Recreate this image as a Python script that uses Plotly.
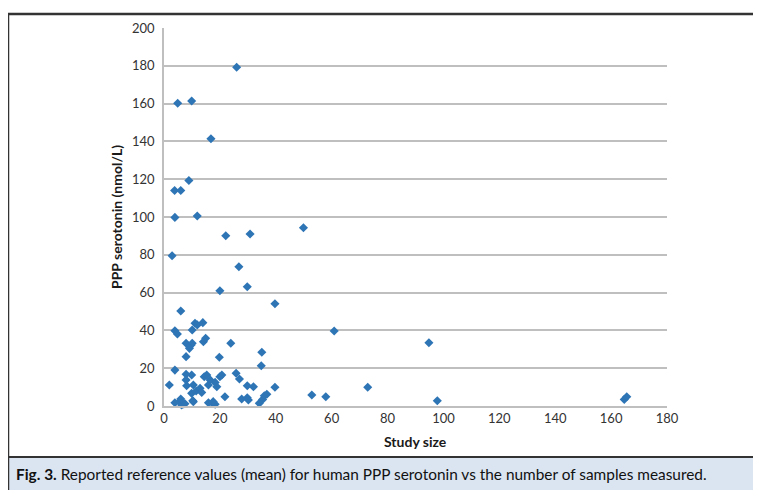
import plotly.graph_objects as go

# Study size (x) and mean PPP serotonin nmol/L (y)
study_size = [26.0, 4.9, 9.9, 16.8, 8.9, 3.8, 6.0, 3.9, 11.9, 22.1, 30.8, 49.9, 2.9, 26.8,
              20.0, 29.8, 39.7, 6.0, 11.1, 11.9, 13.9, 3.9, 4.8, 10.1, 60.9, 14.1, 14.9,
              7.9, 9.7, 10.1, 9.1, 23.9, 94.8, 35.0, 7.9, 19.8, 34.8, 3.9, 1.9,
              7.9, 9.9, 7.9, 8.1, 10.5, 9.9, 11.5, 12.9, 13.5, 14.4, 15.3, 16.5, 15.9,
              18.3, 18.9, 3.9, 5.7, 6.3, 7.5, 10.5, 15.9, 17.4, 20.0, 20.7, 25.8, 27.0,
              29.8, 32.0, 21.8, 27.8, 29.8, 30.2, 34.1, 35.3, 35.9, 36.8, 39.7, 52.9,
              57.9, 72.9, 97.8, 164.7, 165.6, 6.8, 18.3, 6.0, 17.6, 10.3]
serotonin = [179.2, 160.2, 161.4, 141.4, 119.3, 114.0, 114.0, 99.8, 100.5, 90.1, 91.0, 94.3,
             79.5, 73.7, 61.0, 63.1, 54.1, 50.3, 43.8, 42.9, 44.1, 39.8, 38.1, 40.2, 39.7,
             34.0, 35.8, 33.2, 32.3, 33.2, 30.5, 33.2, 33.5, 28.4, 26.1, 25.8, 21.3, 19.0,
             11.1, 16.8, 16.4, 13.8, 10.7, 11.1, 6.7, 7.9, 9.4, 7.2, 15.5, 16.4, 13.8,
             11.1, 12.5, 10.2, 1.7, 2.3, 0.5, 1.2, 2.3, 1.7, 1.4, 15.5, 16.4, 17.3, 14.3,
             10.7, 10.2, 4.9, 3.7, 4.4, 3.2, 1.4, 3.5, 5.4, 6.2, 9.9, 5.8, 4.9, 9.9, 2.8,
             3.5, 4.9, 1.0, 0.9, 3.7, 2.3, 2.8]

x_ticks = [0, 20, 40, 60, 80, 100, 120, 140, 160, 180]
y_ticks = [0, 20, 40, 60, 80, 100, 120, 140, 160, 180, 200]
x_title = "Study size"
y_title = "PPP serotonin (nmol/L)"
caption = "<b>Fig. 3.</b> Reported reference values (mean) for human PPP serotonin vs the number of samples measured."

OFF = 8  # page body margin
W, H = 761 - OFF, 490 - OFF
# plot area in page pixels
L, R, T, B = 164, 667, 28, 406


def px(xpix):
    return (xpix - L) / (R - L)


def py(ypix):
    return (B - ypix) / (B - T)


fig = go.Figure()
fig.add_trace(go.Scatter(
    x=study_size, y=serotonin, mode="markers",
    marker=dict(symbol="diamond", size=7, color="#2E75B6"),
    showlegend=False, cliponaxis=False,
))

FONT = "Lato, 'Open Sans', sans-serif"
fig.update_layout(
    width=W, height=H,
    margin=dict(l=L - OFF, r=W - (R - OFF), t=T - OFF, b=H - (B - OFF), pad=0),
    paper_bgcolor="white", plot_bgcolor="white",
    font=dict(family=FONT, size=13, color="#333333"),
    xaxis=dict(range=[0, 180], tickvals=x_ticks, showgrid=False, zeroline=False,
               showline=True, linecolor="#BFBFBF", linewidth=1.5, ticks="",
               tickfont=dict(size=13, color="#333333")),
    yaxis=dict(range=[0, 200], tickvals=y_ticks, showgrid=True, gridcolor="#BFBFBF",
               gridwidth=1.5, zeroline=False, showline=True, linecolor="#BFBFBF",
               linewidth=1.5, ticks="outside", ticklen=5, tickcolor="rgba(0,0,0,0)",
               tickfont=dict(size=13, color="#333333")),
    shapes=[
        # caption band
        dict(type="rect", xref="paper", yref="paper", x0=px(8), x1=px(770), y0=py(500), y1=py(457),
             fillcolor="#DBE5F1", line=dict(width=0), layer="below"),
        dict(type="line", xref="paper", yref="paper", x0=px(8), x1=px(770), y0=py(457), y1=py(457),
             line=dict(color="#333333", width=2)),
        # outer frame
        dict(type="rect", xref="paper", yref="paper", x0=px(8), x1=px(770), y0=py(500), y1=py(14),
             line=dict(color="#333333", width=2.5), fillcolor="rgba(0,0,0,0)"),
    ],
    annotations=[
        dict(text=f"<b>{x_title}</b>", xref="paper", yref="paper", x=0.5, y=py(441),
             showarrow=False, font=dict(size=14, color="#1a1a1a"), xanchor="center", yanchor="middle"),
        dict(text=f"<b>{y_title}</b>", xref="paper", yref="paper", x=px(116), y=0.5,
             showarrow=False, textangle=-90, font=dict(size=14, color="#1a1a1a"),
             xanchor="center", yanchor="middle"),
        dict(text=caption, xref="paper", yref="paper", x=px(14), y=py(474),
             showarrow=False, font=dict(size=15.4, color="#111111"), xanchor="left", yanchor="middle"),
    ],
)

fig.write_html("out.html")
